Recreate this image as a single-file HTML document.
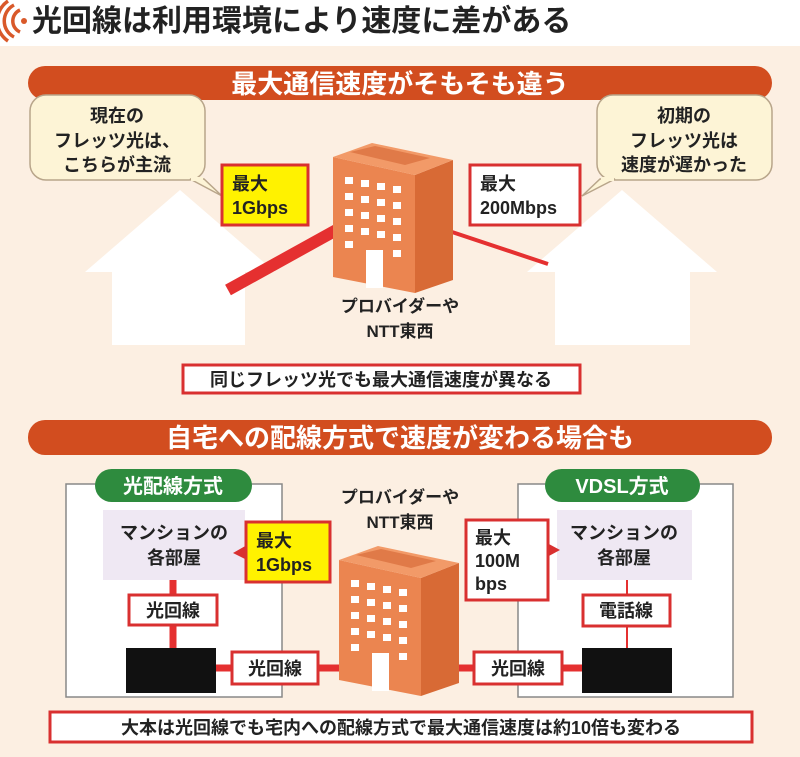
<!DOCTYPE html>
<html><head><meta charset="utf-8"><style>
html,body{margin:0;padding:0;background:#fff}
svg{display:block}
text{font-family:"Liberation Sans","Noto Sans CJK JP",sans-serif;font-weight:bold}
</style></head><body>
<svg width="800" height="757" viewBox="0 0 800 757" xmlns="http://www.w3.org/2000/svg">
<defs>
<g id="bld">
  <polygon points="333,157 415,175 415,293 333,277" fill="#eb8550"/>
  <polygon points="415,175 453,160 453,280 415,293" fill="#d86a35"/>
  <polygon points="333,157 372,143 453,160 415,175" fill="#f29a68"/>
  <polygon points="350,152 375,146 430,158 405,165" fill="#e07a48"/>
  <g fill="#fff">
  <rect x="345" y="177" width="8" height="7"/><rect x="361" y="180" width="8" height="7"/><rect x="377" y="183" width="8" height="7"/><rect x="393" y="186" width="8" height="7"/>
  <rect x="345" y="193" width="8" height="7"/><rect x="361" y="196" width="8" height="7"/><rect x="377" y="199" width="8" height="7"/><rect x="393" y="202" width="8" height="7"/>
  <rect x="345" y="209" width="8" height="7"/><rect x="361" y="212" width="8" height="7"/><rect x="377" y="215" width="8" height="7"/><rect x="393" y="218" width="8" height="7"/>
  <rect x="345" y="225" width="8" height="7"/><rect x="361" y="228" width="8" height="7"/><rect x="377" y="231" width="8" height="7"/><rect x="393" y="234" width="8" height="7"/>
  <rect x="345" y="241" width="8" height="7"/><rect x="393" y="250" width="8" height="7"/>
  <rect x="366" y="250" width="17" height="38"/>
  </g>
</g>
</defs>
<rect x="0" y="0" width="800" height="757" fill="#fff"/>
<rect x="0" y="46" width="800" height="711" fill="#fcefe2"/>
<g fill="none" stroke="#d9592a" stroke-width="3.5">
<path d="M20,10 a12,12 0 0 0 0,22"/><path d="M14,5 a18,18 0 0 0 0,32"/><path d="M8,1 a24,24 0 0 0 0,40"/>
</g>
<circle cx="24" cy="21" r="3" fill="#d9592a"/>
<text x="32" y="31" font-size="30" fill="#222">光回線は利用環境により速度に差がある</text>

<rect x="28" y="66" width="744" height="34" rx="17" fill="#d24d1f"/>
<text x="400" y="93" font-size="26" fill="#fff" text-anchor="middle">最大通信速度がそもそも違う</text>

<polygon points="180,190 275,272 245,272 245,345 112,345 112,272 85,272" fill="#fff"/>
<polygon points="622,190 717,272 690,272 690,345 555,345 555,272 527,272" fill="#fff"/>

<line x1="228" y1="290" x2="340" y2="228" stroke="#e53030" stroke-width="12"/>
<line x1="452" y1="232" x2="548" y2="264" stroke="#e53030" stroke-width="4"/>

<rect x="30" y="95" width="175" height="85" rx="16" fill="#fdf4d6" stroke="#b8a58a" stroke-width="1.5"/>
<polygon points="190,179 204,179 222,196" fill="#fdf4d6" stroke="#b8a58a" stroke-width="1.5"/>
<rect x="191" y="177" width="12" height="4" fill="#fdf4d6"/>
<text font-size="18" fill="#222" text-anchor="middle"><tspan x="117" y="122">現在の</tspan><tspan x="117" y="147">フレッツ光は、</tspan><tspan x="117" y="171">こちらが主流</tspan></text>
<rect x="597" y="95" width="175" height="85" rx="16" fill="#fdf4d6" stroke="#b8a58a" stroke-width="1.5"/>
<polygon points="615,179 600,179 582,196" fill="#fdf4d6" stroke="#b8a58a" stroke-width="1.5"/>
<rect x="601" y="177" width="13" height="4" fill="#fdf4d6"/>
<text font-size="18" fill="#222" text-anchor="middle"><tspan x="684" y="122">初期の</tspan><tspan x="684" y="147">フレッツ光は</tspan><tspan x="684" y="171">速度が遅かった</tspan></text>

<use href="#bld"/>
<text font-size="17" fill="#222" text-anchor="middle"><tspan x="400" y="312">プロバイダーや</tspan><tspan x="400" y="337">NTT東西</tspan></text>

<rect x="222" y="165" width="86" height="60" fill="#fff200" stroke="#d93030" stroke-width="3"/>
<text font-size="18" fill="#222"><tspan x="232" y="190">最大</tspan><tspan x="232" y="214">1Gbps</tspan></text>
<rect x="470" y="165" width="110" height="60" fill="#fff" stroke="#d93030" stroke-width="3"/>
<text font-size="18" fill="#222"><tspan x="480" y="190">最大</tspan><tspan x="480" y="214">200Mbps</tspan></text>

<rect x="183" y="365" width="397" height="28" fill="#fff" stroke="#d93030" stroke-width="3"/>
<text x="381" y="386" font-size="18" fill="#222" text-anchor="middle">同じフレッツ光でも最大通信速度が異なる</text>

<rect x="28" y="420" width="744" height="35" rx="17" fill="#d24d1f"/>
<text x="400" y="447" font-size="26" fill="#fff" text-anchor="middle">自宅への配線方式で速度が変わる場合も</text>

<rect x="66" y="484" width="216" height="213" fill="#fff" stroke="#888" stroke-width="1.5"/>
<rect x="95" y="469" width="157" height="33" rx="16.5" fill="#2e8b3e"/>
<text x="173" y="493" font-size="20" fill="#fff" text-anchor="middle">光配線方式</text>
<rect x="103" y="510" width="142" height="70" fill="#efe8f3"/>
<text font-size="18" fill="#222" text-anchor="middle"><tspan x="174" y="539">マンションの</tspan><tspan x="174" y="564">各部屋</tspan></text>
<line x1="173" y1="580" x2="173" y2="650" stroke="#e53030" stroke-width="7"/>
<rect x="129" y="595" width="88" height="30" fill="#fff" stroke="#d93030" stroke-width="3"/>
<text x="173" y="617" font-size="18" fill="#222" text-anchor="middle">光回線</text>
<rect x="126" y="648" width="90" height="45" fill="#111"/>
<line x1="216" y1="668" x2="345" y2="668" stroke="#e53030" stroke-width="7"/>
<rect x="232" y="652" width="86" height="32" fill="#fff" stroke="#d93030" stroke-width="3"/>
<text x="275" y="675" font-size="18" fill="#222" text-anchor="middle">光回線</text>
<rect x="246" y="522" width="84" height="60" fill="#fff200" stroke="#d93030" stroke-width="3"/>
<polygon points="247,545 233,553 247,560" fill="#d93030"/>
<text font-size="18" fill="#222"><tspan x="256" y="547">最大</tspan><tspan x="256" y="571">1Gbps</tspan></text>

<rect x="518" y="484" width="215" height="213" fill="#fff" stroke="#888" stroke-width="1.5"/>
<rect x="545" y="469" width="155" height="33" rx="16.5" fill="#2e8b3e"/>
<text x="622" y="493" font-size="20" fill="#fff" text-anchor="middle">VDSL方式</text>
<rect x="557" y="510" width="135" height="70" fill="#efe8f3"/>
<text font-size="18" fill="#222" text-anchor="middle"><tspan x="624" y="539">マンションの</tspan><tspan x="624" y="564">各部屋</tspan></text>
<line x1="627" y1="580" x2="627" y2="650" stroke="#e53030" stroke-width="2"/>
<rect x="583" y="595" width="87" height="31" fill="#fff" stroke="#d93030" stroke-width="3"/>
<text x="626" y="617" font-size="18" fill="#222" text-anchor="middle">電話線</text>
<rect x="582" y="648" width="90" height="45" fill="#111"/>
<line x1="455" y1="668" x2="582" y2="668" stroke="#e53030" stroke-width="7"/>
<rect x="474" y="652" width="88" height="32" fill="#fff" stroke="#d93030" stroke-width="3"/>
<text x="518" y="675" font-size="18" fill="#222" text-anchor="middle">光回線</text>
<rect x="466" y="520" width="82" height="80" fill="#fff" stroke="#d93030" stroke-width="3"/>
<polygon points="547,543 560,550 547,557" fill="#d93030"/>
<text font-size="18" fill="#222"><tspan x="475" y="544">最大</tspan><tspan x="475" y="567">100M</tspan><tspan x="475" y="590">bps</tspan></text>

<use href="#bld" transform="translate(6,403)"/>
<text font-size="17" fill="#222" text-anchor="middle"><tspan x="400" y="503">プロバイダーや</tspan><tspan x="400" y="528">NTT東西</tspan></text>

<rect x="50" y="712" width="702" height="30" fill="#fff" stroke="#d93030" stroke-width="3"/>
<text x="401" y="734" font-size="18" fill="#222" text-anchor="middle">大本は光回線でも宅内への配線方式で最大通信速度は約10倍も変わる</text>
</svg>
</body></html>
